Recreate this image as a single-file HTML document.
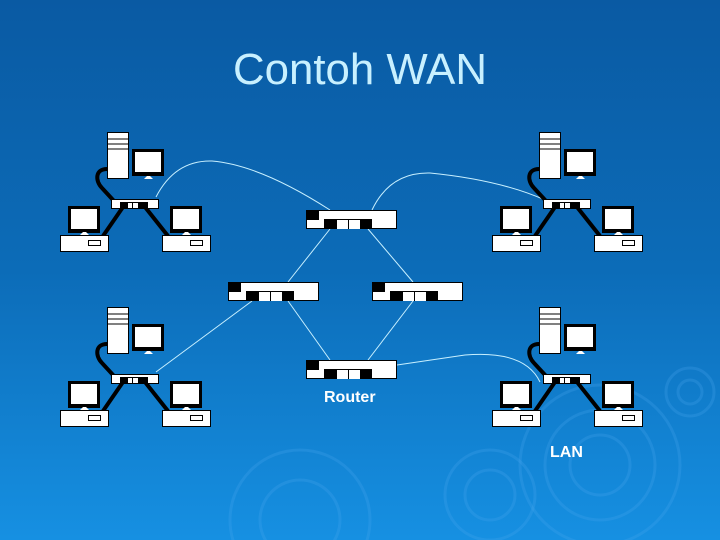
<!DOCTYPE html>
<html><head><style>
html,body{margin:0;padding:0;width:720px;height:540px;overflow:hidden}
svg{display:block}
</style></head><body>
<svg width="720" height="540" viewBox="0 0 720 540" xmlns="http://www.w3.org/2000/svg">
<defs>
<linearGradient id="bg" x1="0" y1="0" x2="0" y2="1">
<stop offset="0" stop-color="#0a5aa3"/>
<stop offset="0.5" stop-color="#0c6cb8"/>
<stop offset="1" stop-color="#1690e2"/>
</linearGradient>
<g id="lan">
<path d="M57,44 C45,44 45,56 52,63 L64,76" fill="none" stroke="#000" stroke-width="4"/>
<path d="M73,82 L53,111" stroke="#000" stroke-width="4"/>
<path d="M95,82 L118,111" stroke="#000" stroke-width="4"/>
<rect x="57.5" y="7.5" width="21" height="46" fill="#fff" stroke="#000"/>
<line x1="58" y1="14" x2="78" y2="14" stroke="#000"/>
<line x1="58" y1="19" x2="78" y2="19" stroke="#000"/>
<line x1="58" y1="24" x2="78" y2="24" stroke="#000"/>
<rect x="82" y="24" width="32" height="27" fill="#000"/>
<rect x="85" y="27" width="26" height="20" fill="#fff"/>
<path d="M94,54 L97,51 L100,51 L103,54 Z" fill="#fff"/>
<rect x="61.5" y="74.5" width="47" height="9" fill="#fff" stroke="#000"/>
<rect x="70" y="77" width="28" height="7" fill="#000"/>
<rect x="78" y="78" width="4" height="5" fill="#fff"/>
<rect x="83" y="78" width="5" height="5" fill="#fff"/>
<rect x="18" y="81" width="32" height="27" fill="#000"/>
<rect x="21" y="84" width="26" height="20" fill="#fff"/>
<path d="M30,110 L33,107 L36,107 L39,110 Z" fill="#fff"/>
<rect x="10.5" y="110.5" width="48" height="16" fill="#fff" stroke="#000"/>
<rect x="38.5" y="115.5" width="12" height="5" fill="none" stroke="#000"/>
<rect x="120" y="81" width="32" height="27" fill="#000"/>
<rect x="123" y="84" width="26" height="20" fill="#fff"/>
<path d="M132,110 L135,107 L138,107 L141,110 Z" fill="#fff"/>
<rect x="112.5" y="110.5" width="48" height="16" fill="#fff" stroke="#000"/>
<rect x="140.5" y="115.5" width="12" height="5" fill="none" stroke="#000"/>
</g>
<g id="rt">
<rect x="0.5" y="0.5" width="90" height="18" fill="#fff" stroke="#000"/>
<rect x="0" y="0" width="13" height="10" fill="#000"/>
<rect x="18" y="9" width="48" height="10" fill="#000"/>
<rect x="31" y="10" width="11" height="9" fill="#fff"/>
<rect x="43" y="10" width="11" height="9" fill="#fff"/>
</g>
</defs>
<rect width="720" height="540" fill="url(#bg)"/>
<g fill="none" stroke="#4aa8f0" stroke-opacity="0.25" stroke-width="3">
<circle cx="600" cy="465" r="30"/><circle cx="600" cy="465" r="55"/><circle cx="600" cy="465" r="80"/>
<circle cx="490" cy="495" r="25"/><circle cx="490" cy="495" r="45"/>
<circle cx="690" cy="392" r="12"/><circle cx="690" cy="392" r="24"/>
<circle cx="300" cy="520" r="40"/><circle cx="300" cy="520" r="70"/>
</g>
<text x="233" y="84" font-family="Liberation Sans, sans-serif" font-size="44" fill="#c8f0ff" textLength="254" lengthAdjust="spacingAndGlyphs">Contoh WAN</text>
<g fill="none" stroke="#c8f0ff" stroke-width="1">
<path d="M156,197 Q175,160 212,161 Q260,165 330,210"/>
<path d="M372,210 Q390,172 430,173 Q500,180 545,200"/>
<path d="M330,229 L288,282"/>
<path d="M368,229 L413,282"/>
<path d="M288,301 L330,360"/>
<path d="M413,301 L368,360"/>
<path d="M252,301 L156,372"/>
<path d="M397,365 L465,355 Q525,350 540,382"/>
</g>
<use href="#lan" x="50" y="125"/>
<use href="#lan" x="482" y="125"/>
<use href="#lan" x="50" y="300"/>
<use href="#lan" x="482" y="300"/>
<use href="#rt" x="306" y="210"/>
<use href="#rt" x="228" y="282"/>
<use href="#rt" x="372" y="282"/>
<use href="#rt" x="306" y="360"/>
<text x="324" y="402" font-family="Liberation Sans, sans-serif" font-size="16" font-weight="bold" fill="#fff">Router</text>
<text x="550" y="457" font-family="Liberation Sans, sans-serif" font-size="16" font-weight="bold" fill="#fff">LAN</text>
</svg>
</body></html>
